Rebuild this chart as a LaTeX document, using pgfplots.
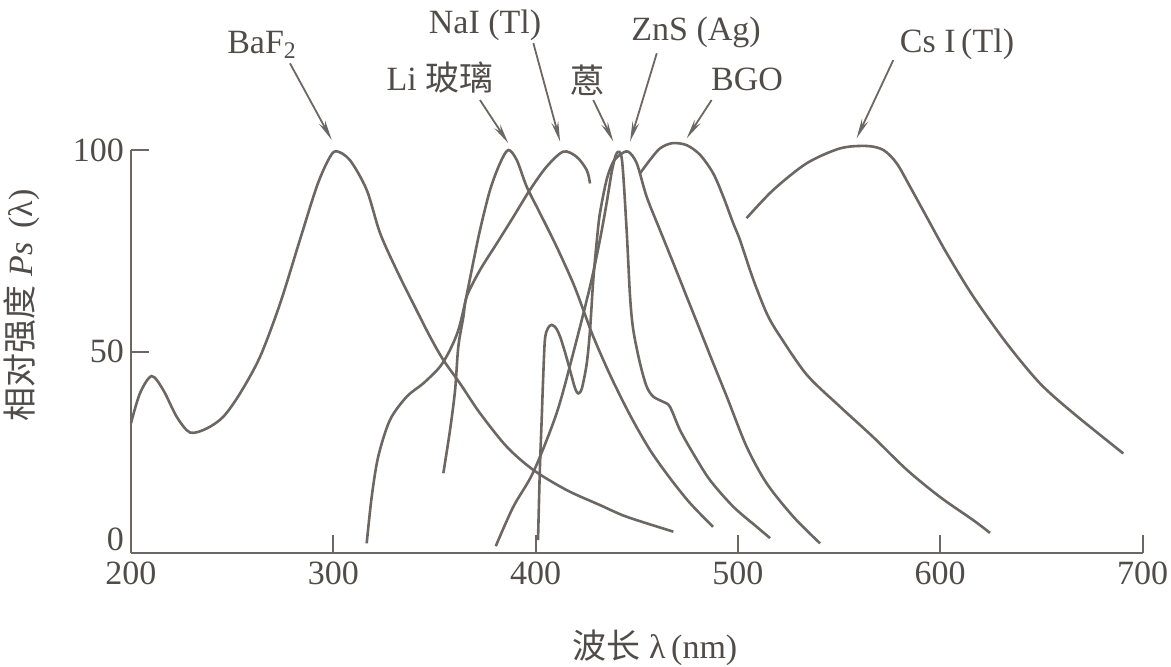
\documentclass[border=0pt]{standalone}
\usepackage{fontspec}
\setmainfont{Liberation Serif}
\newfontfamily\cjk{Noto Sans CJK SC}
\usepackage{pgfplots}
\pgfplotsset{compat=1.18}
\usetikzlibrary{arrows.meta,calc}
\definecolor{ink}{RGB}{108,103,99}
\definecolor{txt}{RGB}{80,76,74}
\tikzset{spec/.style={ink, line width=1.3pt, smooth, tension=0.5, mark=none}}
\begin{document}
\begin{tikzpicture}
\begin{axis}[name=ax, width=505.75pt, height=201.5pt, scale only axis,
  xmin=200, xmax=700, ymin=0, ymax=100,
  axis lines=left, axis line style={-, ink, line width=1pt},
  xtick={200,300,...,700}, ytick={50,100},
  extra y ticks={0}, extra y tick style={yticklabel style={yshift=7pt}},
  tick align=inside, major tick length=9pt, tick style={ink, line width=1pt},
  /pgf/number format/assume math mode=true,
  ticklabel style={font=\fontsize{17}{20}\selectfont, text=txt},
  xticklabel style={yshift=-1pt},
  clip=false,
]
% BaF2
\addplot[spec] coordinates {(200,32.2)(204.4,39.6)(210.2,43.9)(216,40.4)(222.6,33.8)(229.2,29.9)(237.4,30.9)(245.6,33.8)(253.9,39.6)(263.8,48.7)(273.7,61.9)(283.5,77.7)(291.8,90.9)(297.5,97.5)(301.3,99.7)(308.2,97.5)(316.5,90.1)(323.1,79.4)(331.3,70.2)(339.5,61.9)(347.8,53.7)(354.4,47.9)(362.6,42.1)(372.5,34.7)(385.7,26.4)(398.9,20.6)(415.4,15.6)(431.8,11.9)(445,9.0)(468.1,5.3)};
% Li glass
\addplot[spec] coordinates {(316.5,2.4)(319.0,14.0)(322.2,23.9)(328.0,33.0)(336.3,38.8)(344.5,42.1)(352.7,46.2)(357.7,50.4)(361.8,55.3)(365.1,62.0)(368.4,70.2)(372.5,80.1)(377.5,90.1)(382.4,96.7)(386.5,100)(390.7,97.5)(395.6,90.9)(402.2,84.3)(410.4,76.0)(418.6,66.9)(423.6,60.3)(428.5,53.7)(436.8,44.2)(446.7,34.2)(456.5,25.6)(466.4,18.6)(476.3,12.4)(487.7,6.5)};
% NaI(Tl)
\addplot[spec] coordinates {(354.4,19.8)(357.7,30.5)(360.2,40.4)(361.8,51.2)(364.3,58.6)(365.9,63.6)(372.5,70.2)(380.8,76.8)(389.0,83.4)(397.2,90.1)(405.5,95.9)(413.7,99.6)(420.3,98.3)(425.3,95.0)(426.9,91.7)};
% anthracene
\addplot[spec] coordinates {(380.3,1.7)(389.0,11.5)(398.9,20.1)(410.4,34.7)(418.6,49.6)(426.9,66.1)(431.8,77.7)(435.1,86.8)(437.8,95.0)(440.2,99.3)(442.7,97.5)(445.0,80.1)(446.7,63.6)(448.3,55.3)(451.6,47.1)(454.9,41.3)(458.2,38.8)(463.1,37.5)(466.4,36.3)(471.4,30.5)(477.9,24.7)(486.2,18.1)(497.7,11.5)(509.3,6.5)(515.9,3.7)};
% ZnS(Ag)
\addplot[spec] coordinates {(401.2,3.2)(401.7,13.2)(402.2,22.3)(403.0,33.0)(403.7,42.9)(404.6,52.9)(406.1,55.8)(408.0,56.6)(410.1,55.8)(412.1,53.7)(414.5,49.9)(417.0,45.4)(419.5,40.9)(421.1,39.6)(422.9,40.9)(425.3,47.1)(426.9,55.3)(428.5,67.7)(430.3,77.7)(431.8,84.3)(435.1,92.6)(438.3,97.0)(441.7,98.8)(445.7,99.6)(450.0,96.7)(454.9,88.4)(461.5,80.1)(468.1,71.9)(474.7,63.6)(481.3,55.3)(487.8,47.1)(494.5,38.8)(504.3,26.4)(514.2,17.3)(527.4,9.0)(540.6,2.4)};
% BGO
\addplot[spec] coordinates {(451.6,94.2)(456.5,97.5)(461.5,100.4)(467.6,101.7)(474.7,101.2)(481.3,98.8)(487.8,94.2)(492.8,88.4)(497.7,81.8)(501.0,77.7)(507.5,68.0)(514.4,59.3)(520.8,53.8)(534.1,44.2)(550.5,36.3)(566.8,28.8)(583.6,20.6)(599.9,13.9)(616.2,8.2)(624.6,5.0)};
% CsI(Tl)
\addplot[spec] coordinates {(504.3,83.1)(517.5,90.1)(534.0,96.7)(550.5,100.4)(563.7,101.0)(571.9,100)(578.5,96.7)(585.1,90.9)(593.3,83.4)(603.2,74.4)(616.4,63.6)(632.9,52.0)(649.3,42.1)(665.8,34.7)(690.5,24.7)};

% labels and arrows
\tikzset{lab/.style={text=txt, font=\fontsize{17}{20}\selectfont, inner sep=0pt},
         arr/.style={ink, line width=0.9pt, -{Stealth[length=10pt,width=3.5pt]}}}
\node[lab] at (axis cs:264.8,126.1) {BaF\textsubscript{2}};
\draw[arr] (axis cs:278.6,121.5) -- (axis cs:299.2,102.5);
\node[lab] at (axis cs:375.0,131.0) {NaI\ (Tl)};
\draw[arr] (axis cs:398.9,126.5) -- (axis cs:412.1,102.1);
\node[lab] at (axis cs:352.7,117.9) {Li\ {\cjk 玻璃}};
\draw[arr] (axis cs:372.5,112.4) -- (axis cs:386.5,101.7);
\node[lab] at (axis cs:425.9,117.4) {{\cjk 蒽}};
\draw[arr] (axis cs:428.5,112.4) -- (axis cs:438.4,102.1);
\node[lab] at (axis cs:479.3,129.3) {ZnS\ (Ag)};
\draw[arr] (axis cs:459.9,124.0) -- (axis cs:446.7,102.1);
\node[lab] at (axis cs:504.5,117.4) {BGO};
\draw[arr] (axis cs:487.0,112.4) -- (axis cs:474.7,102.9);
\node[lab] at (axis cs:608.3,126.1) {Cs\ I\,(Tl)};
\draw[arr] (axis cs:576.8,122.3) -- (axis cs:558.7,102.9);

% axis titles
\node[lab] at (axis cs:459,-23.6) {{\cjk 波长}\ λ\,(nm)};
\node[lab, rotate=90] at (axis cs:146.1,61.5) {{\cjk 相对强度}\ \textit{Ps}\ \,(λ)};
\end{axis}
\pgfresetboundingbox
\path[use as bounding box] ($(ax.south west)+(-65.5pt,-56.5pt)$) rectangle ($(ax.north east)+(14.25pt,75pt)$);
\end{tikzpicture}
\end{document}
